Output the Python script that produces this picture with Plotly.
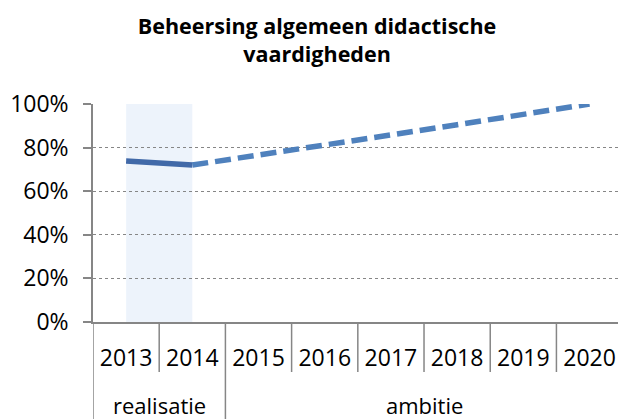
import plotly.graph_objects as go

years = ["2013", "2014", "2015", "2016", "2017", "2018", "2019", "2020"]
groups = ["realisatie", "ambitie"]
group_sizes = [2, 6]

realisatie_x = ["2013", "2014"]
realisatie_y = [0.738, 0.72]
ambitie_x = ["2014", "2015", "2016", "2017", "2018", "2019", "2020"]
ambitie_y = [0.72, 0.768, 0.815, 0.858, 0.905, 0.953, 1.0]

y_ticks = [0, 0.2, 0.4, 0.6, 0.8, 1.0]

FONT = "Open Sans"
GRAY = "#868686"

fig = go.Figure()
fig.add_trace(go.Scatter(x=realisatie_x, y=realisatie_y, mode="lines",
                         line=dict(color="#4169A8", width=5.5),
                         showlegend=False, hoverinfo="skip"))
fig.add_trace(go.Scatter(x=ambitie_x, y=ambitie_y, mode="lines",
                         line=dict(color="#4F81BD", width=5.5, dash="16px,7px"),
                         showlegend=False, hoverinfo="skip"))

H = 218.0  # plot height in px
shapes = []
# shaded realisatie region (between the 2013 and 2014 points)
shapes.append(dict(type="rect", xref="x", yref="y", x0=0, x1=1, y0=0, y1=1,
                   fillcolor="rgba(200,218,242,0.32)", line=dict(width=0), layer="below"))
# boundaries between year cells
bounds = []
start = 0
for s in group_sizes:
    bounds.append(start - 0.5)
    start += s
for i in range(len(years)):
    b = i - 0.5
    if b in bounds:
        shapes.append(dict(type="line", xref="x", yref="paper", x0=b, x1=b,
                           y0=0, y1=-97 / H, line=dict(color=GRAY, width=1.5)))
    else:
        shapes.append(dict(type="line", xref="x", yref="paper", x0=b, x1=b,
                           y0=0, y1=-50 / H, line=dict(color=GRAY, width=1.5)))

annotations = []
start = 0
for g, s in zip(groups, group_sizes):
    cx = start - 0.5 + s / 2
    annotations.append(dict(text=g, x=cx, xref="x", y=-83 / H, yref="paper",
                            xanchor="center", yanchor="middle", showarrow=False,
                            font=dict(family=FONT, size=22, color="black")))
    start += s

fig.update_layout(
    width=618, height=419,
    margin=dict(l=93, r=0, t=104, b=97),
    paper_bgcolor="white", plot_bgcolor="white",
    title=dict(text="<b>Beheersing algemeen didactische<br>vaardigheden</b>",
               x=317 / 618, xanchor="center", y=1 - 34 / 419, yanchor="middle",
               font=dict(family=FONT, size=21.5, color="black")),
    shapes=shapes, annotations=annotations,
    xaxis=dict(type="category", categoryorder="array", categoryarray=years,
               range=[-0.5, 7.43], showgrid=False, ticks="", automargin=False,
               showline=True, linecolor=GRAY, linewidth=1.5,
               tickfont=dict(family=FONT, size=23, color="black"),
               ticklabelstandoff=15),
    yaxis=dict(range=[0, 1], tickvals=y_ticks, tickformat=".0%", automargin=False,
               showgrid=True, gridcolor=GRAY, gridwidth=1.3, griddash="dot",
               zeroline=False, showline=True, linecolor=GRAY, linewidth=1.5,
               ticks="outside", ticklen=8, tickcolor=GRAY, tickwidth=1.5,
               tickfont=dict(family=FONT, size=23, color="black"),
               ticklabelstandoff=10),
)

fig.write_html(
    "out.html",
    config={"displayModeBar": False},
    post_script="document.body.style.margin='0';document.body.style.overflow='hidden';",
)
